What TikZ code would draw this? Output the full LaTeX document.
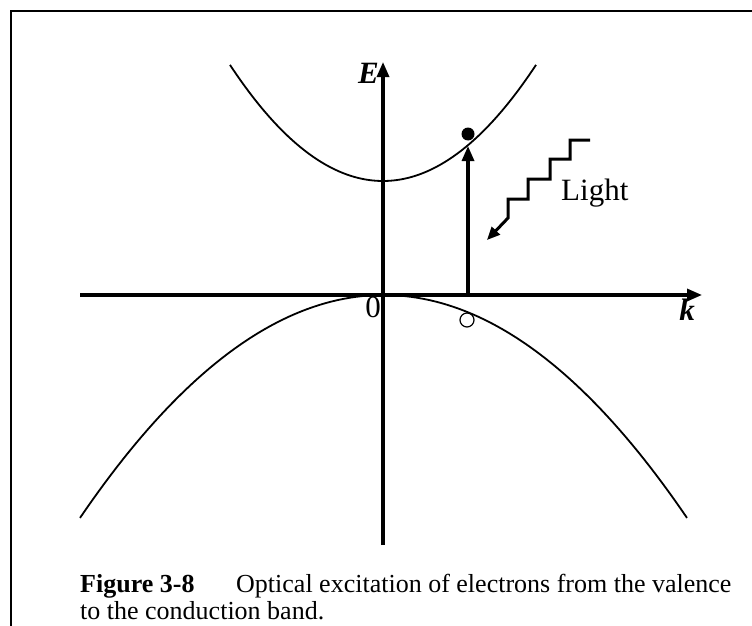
\documentclass[tikz,border=0pt]{standalone}
\usepackage{fontspec}
\setmainfont{Liberation Serif}
\usetikzlibrary{arrows.meta}

\begin{document}
\begin{tikzpicture}[
          x=1pt, y=-1pt,
          font=\fontsize{31}{35}\selectfont,
          axis/.style={line width=3.2pt, -{Triangle[length=15pt, width=12pt]}},
          band/.style={line width=1.8pt},
          photon/.style={line width=3pt, -{Triangle[length=13pt, width=11pt]}},
          caption/.style={font=\fontsize{26}{29}\selectfont, anchor=base west, inner sep=0pt}
        ]
        \useasboundingbox (0,0) rectangle (752,626);

        % -------- Frame --------
        \draw[line width=2.4pt] (11,626) -- (11,11) -- (752,11);

        % -------- Axes --------
        \coordinate (kstart) at (80,295);
        \coordinate (kend) at (702,295);
        \coordinate (Estart) at (383,545);
        \coordinate (Eend) at (383,62);
        \draw[axis] (kstart) -- (kend);
        \draw[axis] (Estart) -- (Eend);
        \node[anchor=base east, inner sep=0pt] (Elabel) at (379,84) {\textbf{\textit{E}}};
        \node[anchor=north, inner sep=1pt] (klabel) at (687,298) {\textbf{\textit{k}}};
        \node[anchor=north east, inner sep=1pt] (zero) at (382,296) {0};

        % -------- Bands --------
        \draw[band] plot[domain=230:536, samples=80] (\x, {181-49.6*((\x-383)/100)^2});
        \draw[band] plot[domain=80:687, samples=100] (\x, {295+24.2*((\x-383.5)/100)^2});

        % -------- Electron and hole --------
        \node[circle, fill=black, minimum size=13pt, inner sep=0pt] (electron) at (468,134) {};
        \node[circle, draw, line width=1.2pt, fill=white, minimum size=14pt, inner sep=0pt] (hole) at (467,320) {};
        \coordinate (kick) at (468,295);
        \coordinate (cband) at (468,146);
        \draw[axis] (kick) -- (cband);

        % -------- Light --------
        \coordinate (lightstart) at (590,140);
        \coordinate (lightend) at (487,240);
        \draw[photon] (lightstart) -- (570,140) -- (570,159) -- (550,159) -- (550,179)
                      -- (528,179) -- (528,199) -- (508,199) -- (508,218) -- (lightend);
        \node[anchor=base west, inner sep=0pt] (light) at (561,200) {Light};

        % -------- Caption --------
        \node[caption] (fig) at (80,592) {\textbf{Figure 3-8}};
        \node[caption] (text1) at (236,592) {Optical excitation of electrons from the valence};
        \node[caption] (text2) at (80,619) {to the conduction band.};

      \end{tikzpicture}
\end{document}
